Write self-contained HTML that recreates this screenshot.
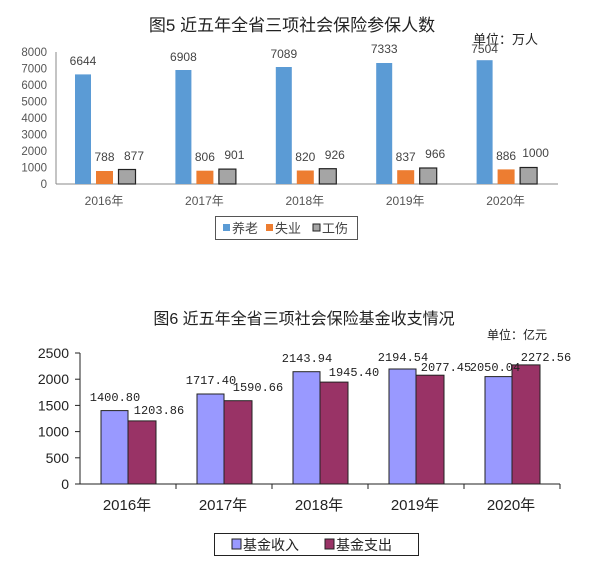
<!DOCTYPE html>
<html><head><meta charset="utf-8"><style>
body{margin:0;background:#fff;}
svg{display:block;}
</style></head><body>
<svg width="600" height="568" xmlns="http://www.w3.org/2000/svg" font-family="Liberation Sans, Noto Sans CJK SC, sans-serif">
<rect width="600" height="568" fill="#fff"/>
<text x="292" y="31" font-size="17" text-anchor="middle" fill="#222">图5 近五年全省三项社会保险参保人数</text>
<text x="473" y="44" font-size="13" fill="#222">单位：万人</text>
<g font-size="11.5" fill="#555" text-anchor="end">
<text x="47" y="188">0</text><text x="47" y="171.5">1000</text><text x="47" y="155">2000</text>
<text x="47" y="138.5">3000</text><text x="47" y="122">4000</text><text x="47" y="105.5">5000</text>
<text x="47" y="89">6000</text><text x="47" y="72.5">7000</text><text x="47" y="56">8000</text>
</g>
<line x1="56" y1="52" x2="56" y2="184" stroke="#888"/>
<line x1="56" y1="184" x2="558" y2="184" stroke="#888"/>
<g font-size="12" fill="#444" text-anchor="middle">
<rect x="75" y="74.4" width="16" height="109.6" fill="#5b9bd5"/>
<rect x="96" y="171" width="17" height="13" fill="#ed7d31"/>
<rect x="118.5" y="169.5" width="17" height="14.5" fill="#a5a5a5" stroke="#222" stroke-width="1.2"/>
<text x="83" y="65">6644</text><text x="104.5" y="161">788</text><text x="134" y="160">877</text>
<text x="104" y="205" fill="#555">2016年</text>

<rect x="175.4" y="70" width="16" height="114" fill="#5b9bd5"/>
<rect x="196.4" y="170.7" width="17" height="13.3" fill="#ed7d31"/>
<rect x="218.9" y="169.1" width="17" height="14.9" fill="#a5a5a5" stroke="#222" stroke-width="1.2"/>
<text x="183.4" y="61">6908</text><text x="204.9" y="161">806</text><text x="234.4" y="159">901</text>
<text x="204.4" y="205" fill="#555">2017年</text>

<rect x="275.8" y="67" width="16" height="117" fill="#5b9bd5"/>
<rect x="296.8" y="170.5" width="17" height="13.5" fill="#ed7d31"/>
<rect x="319.3" y="168.7" width="17" height="15.3" fill="#a5a5a5" stroke="#222" stroke-width="1.2"/>
<text x="283.8" y="58">7089</text><text x="305.3" y="161">820</text><text x="334.8" y="159">926</text>
<text x="304.8" y="205" fill="#555">2018年</text>

<rect x="376.2" y="63" width="16" height="121" fill="#5b9bd5"/>
<rect x="397.2" y="170.2" width="17" height="13.8" fill="#ed7d31"/>
<rect x="419.7" y="168" width="17" height="16" fill="#a5a5a5" stroke="#222" stroke-width="1.2"/>
<text x="384.2" y="53">7333</text><text x="405.7" y="161">837</text><text x="435.2" y="158">966</text>
<text x="405.2" y="205" fill="#555">2019年</text>

<rect x="476.6" y="60.2" width="16" height="123.8" fill="#5b9bd5"/>
<rect x="497.6" y="169.4" width="17" height="14.6" fill="#ed7d31"/>
<rect x="520.1" y="167.5" width="17" height="16.5" fill="#a5a5a5" stroke="#222" stroke-width="1.2"/>
<text x="484.6" y="53">7504</text><text x="506.1" y="160">886</text><text x="535.6" y="157">1000</text>
<text x="505.6" y="205" fill="#555">2020年</text>
</g>
<rect x="215.5" y="216.5" width="142" height="23" fill="#fff" stroke="#555"/>
<rect x="223" y="224" width="7" height="7" fill="#5b9bd5"/>
<text x="232" y="233" font-size="13" fill="#444">养老</text>
<rect x="266" y="224" width="7" height="7" fill="#ed7d31"/>
<text x="275" y="233" font-size="13" fill="#444">失业</text>
<rect x="313" y="224" width="7" height="7" fill="#a5a5a5" stroke="#222"/>
<text x="322" y="233" font-size="13" fill="#444">工伤</text>

<text x="304" y="324" font-size="16" text-anchor="middle" fill="#222">图6 近五年全省三项社会保险基金收支情况</text>
<text x="487" y="339" font-size="12" fill="#222">单位：亿元</text>
<g font-size="14" fill="#222" text-anchor="end">
<text x="69" y="489">0</text><text x="69" y="462.8">500</text><text x="69" y="436.6">1000</text>
<text x="69" y="410.4">1500</text><text x="69" y="384.2">2000</text><text x="69" y="358">2500</text>
</g>
<g stroke="#222">
<line x1="80" y1="353" x2="80" y2="484"/>
<line x1="80" y1="484" x2="560" y2="484"/>
<line x1="75" y1="353" x2="80" y2="353"/><line x1="75" y1="379.2" x2="80" y2="379.2"/>
<line x1="75" y1="405.4" x2="80" y2="405.4"/><line x1="75" y1="431.6" x2="80" y2="431.6"/>
<line x1="75" y1="457.8" x2="80" y2="457.8"/><line x1="75" y1="484" x2="80" y2="484"/>
<line x1="176" y1="484" x2="176" y2="489"/><line x1="272" y1="484" x2="272" y2="489"/>
<line x1="368" y1="484" x2="368" y2="489"/><line x1="464" y1="484" x2="464" y2="489"/>
<line x1="560" y1="484" x2="560" y2="489"/>
</g>
<g stroke="#222" stroke-width="1">
<rect x="101" y="410.6" width="27" height="73.4" fill="#9999ff"/>
<rect x="128" y="420.9" width="28" height="63.1" fill="#993366"/>
<rect x="197" y="394" width="27" height="90" fill="#9999ff"/>
<rect x="224" y="400.7" width="28" height="83.3" fill="#993366"/>
<rect x="293" y="371.7" width="27" height="112.3" fill="#9999ff"/>
<rect x="320" y="382.1" width="28" height="101.9" fill="#993366"/>
<rect x="389" y="369" width="27" height="115" fill="#9999ff"/>
<rect x="416" y="375.2" width="28" height="108.8" fill="#993366"/>
<rect x="485" y="376.6" width="27" height="107.4" fill="#9999ff"/>
<rect x="512" y="364.9" width="28" height="119.1" fill="#993366"/>
</g>
<g font-family="Liberation Mono, monospace" font-size="12" fill="#222" text-anchor="middle">
<text x="115" y="401">1400.80</text><text x="159" y="414">1203.86</text>
<text x="211" y="384">1717.40</text><text x="258" y="391">1590.66</text>
<text x="307" y="362">2143.94</text><text x="354" y="376">1945.40</text>
<text x="403" y="361">2194.54</text><text x="446" y="371">2077.45</text>
<text x="495" y="371">2050.04</text><text x="546" y="361">2272.56</text>
</g>
<g font-size="15" fill="#222" text-anchor="middle">
<text x="127" y="510">2016年</text><text x="223" y="510">2017年</text><text x="319" y="510">2018年</text>
<text x="415" y="510">2019年</text><text x="511" y="510">2020年</text>
</g>
<rect x="214.5" y="533.5" width="204" height="22" fill="#fff" stroke="#222"/>
<rect x="232" y="539" width="9" height="10" fill="#9999ff" stroke="#222"/>
<text x="243" y="550" font-size="14" fill="#222">基金收入</text>
<rect x="325" y="539" width="9" height="10" fill="#993366" stroke="#222"/>
<text x="336" y="550" font-size="14" fill="#222">基金支出</text>
</svg>
</body></html>
